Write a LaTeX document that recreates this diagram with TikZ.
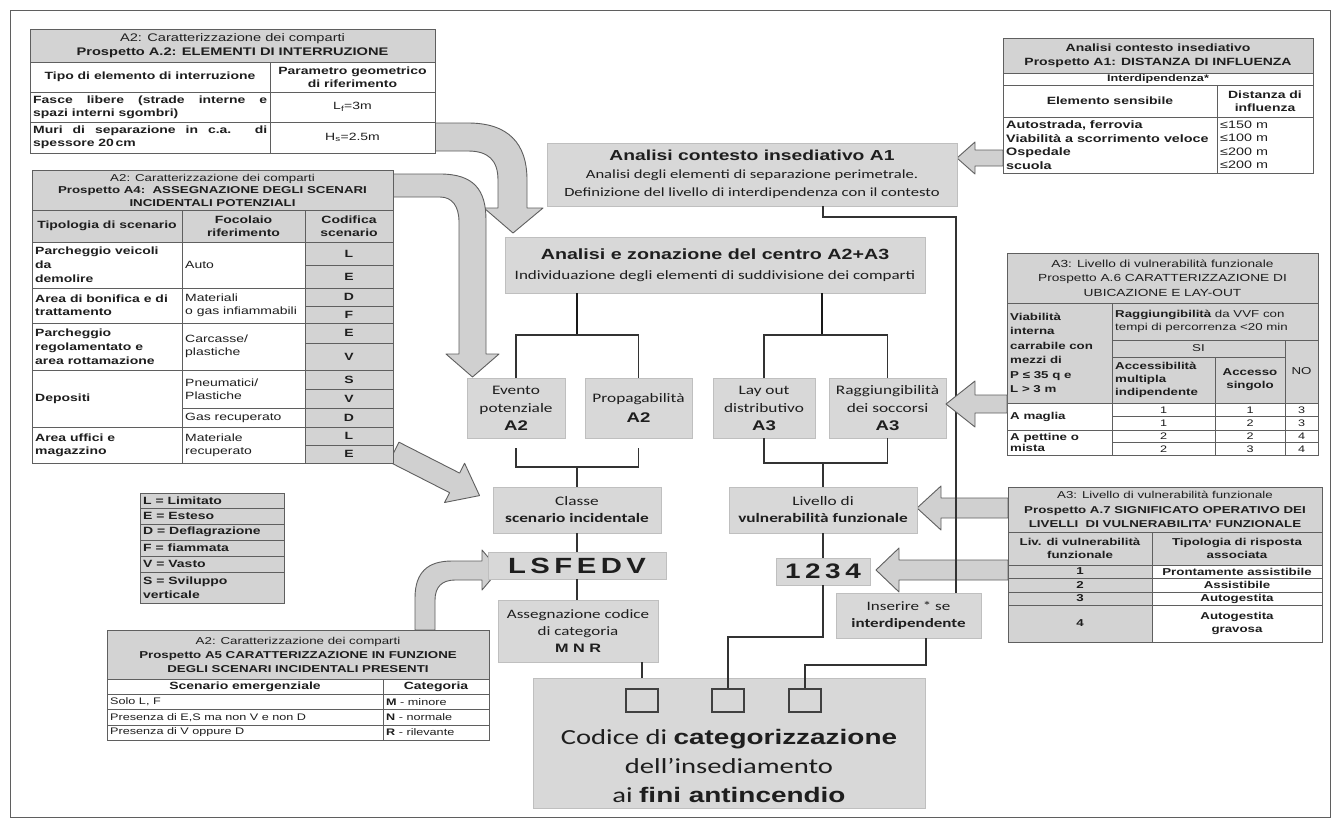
\documentclass[tikz,border=0pt]{standalone}
\usepackage{fontspec}
\setmainfont[FakeStretch=1.33]{Liberation Sans}
\newfontfamily\calfont[FakeStretch=1.33]{Carlito}
\usetikzlibrary{calc}
\definecolor{tgray}{RGB}{211,211,211}
\definecolor{bgray}{RGB}{216,216,216}
\definecolor{agray}{RGB}{208,208,208}
\definecolor{tline}{RGB}{95,95,95}
\definecolor{ink}{RGB}{30,30,30}
\newcommand\setfs[2]{\fontsize{#1}{#2}\selectfont}
\newcommand\libb{\normalfont\bfseries}
\newcommand\mkcell[8]{%
  \pgfmathsetmacro\cw{#6-#4}\pgfmathsetmacro\ch{#7-#5}\pgfmathsetmacro\lx{-(#6-#4)/2+3}%
  \node[cellrect,fill=#1,minimum width=\cw pt,minimum height=\ch pt] (#3) at (#4,#5) {};
  \node[celltext,#2] (#3t) at (#3.center) {#8};}
\newcommand\tcell[7][]{\mkcell{white}{#1}{#2}{#3}{#4}{#5}{#6}{#7}}
\newcommand\gcell[7][]{\mkcell{tgray}{#1}{#2}{#3}{#4}{#5}{#6}{#7}}
\newcommand\mkbox[7][]{%
  \pgfmathsetmacro\cw{#5-#3}\pgfmathsetmacro\ch{#6-#4}%
  \node[boxrect,minimum width=\cw pt,minimum height=\ch pt] (#2) at (#3,#4) {};
  \node[boxtext,#1] (#2t) at (#2.center) {#7};}
\begin{document}
\begin{tikzpicture}[x=1pt,y=-1pt,
  cellrect/.style={draw=tline,line width=0.7pt,anchor=north west,inner sep=0pt,outer sep=0pt},
  celltext/.style={inner sep=0pt,align=center,text=ink,font=\setfs{10.5}{13}},
  lft/.style={anchor=west,xshift=\lx pt,align=left},
  B/.style={font=\bfseries\setfs{10.5}{13}},
  boxrect/.style={draw=black!25,fill=bgray,line width=0.6pt,anchor=north west,inner sep=0pt,outer sep=0pt},
  boxtext/.style={inner sep=0pt,align=center,text=ink,font=\calfont\setfs{13}{16}},
  bigarrow/.style={draw=tline,fill=agray,line width=0.9pt,line join=round},
  link/.style={draw=black!80,line width=1.3pt},
  stem/.style={draw=black!90,line width=2.6pt},
  sqbox/.style={draw=black!75,fill=bgray,line width=1.4pt,minimum width=32pt,minimum height=23pt,inner sep=0pt},
]
\useasboundingbox[fill=white] (0,0) rectangle (1338,825);
\draw[draw=tline,line width=1pt] (10,10) rectangle (1330,817);

% ---------- big arrows (behind) ----------
\path[bigarrow] (435,123) -- (468,123) .. controls (508,123) and (527,143) .. (527,180) -- (527,208) -- (543,208) -- (513,233) -- (484,208) -- (498,208) -- (498,180) .. controls (498,160) and (488,151) .. (468,151) -- (435,151) -- cycle;
\path[bigarrow] (393,174) -- (440,174) .. controls (474,174) and (486,190) .. (486,220) -- (486,354) -- (499,354) -- (472.5,377) -- (446,354) -- (459,354) -- (459,222) .. controls (459,206) and (452,197) .. (440,197) -- (393,197) -- cycle;
\begin{scope}[shift={(394,452)},rotate=-27]
\path[bigarrow] (0,-11) -- (68,-11) -- (68,-22) -- (96,0) -- (68,22) -- (68,11) -- (0,11) -- cycle;
\end{scope}
\path[bigarrow] (415,630) -- (415,598) .. controls (415,572) and (428,561) .. (452,561) -- (482,561) -- (482,550) -- (499,570) -- (482,590) -- (482,580) -- (455,580) .. controls (442,580) and (435,587) .. (435,600) -- (435,630) -- cycle;
\path[bigarrow] (1003,150) -- (975,150) -- (975,142) -- (957,158) -- (975,174) -- (975,166) -- (1003,166) -- cycle;
\path[bigarrow] (1008,498) -- (941,498) -- (941,486) -- (917,508) -- (941,530) -- (941,518) -- (1008,518) -- cycle;
\path[bigarrow] (1008,560) -- (899,560) -- (899,548) -- (876,570) -- (899,592) -- (899,580) -- (1008,580) -- cycle;

% ---------- Table A.2 ----------
\gcell[font=\setfs{11}{14}]{a2h}{30}{29}{435}{62}{A2: Caratterizzazione dei comparti\\\textbf{Prospetto A.2: ELEMENTI DI INTERRUZIONE}}
\tcell[B]{a2c1}{30}{62}{270}{92}{Tipo di elemento di interruzione}
\tcell[B]{a2c2}{270}{62}{435}{92}{Parametro geometrico\\di riferimento}
\tcell[lft,B]{a2r1}{30}{92}{270}{122}{\makebox[234pt][s]{Fasce libere (strade interne e}\\spazi interni sgombri)}
\tcell{a2v1}{270}{92}{435}{122}{L\textsubscript{f}=3m}
\tcell[lft,B]{a2r2}{30}{122}{270}{153}{\makebox[234pt][s]{Muri di separazione in c.a. di}\\spessore 20\,cm}
\tcell{a2v2}{270}{122}{435}{153}{H\textsubscript{s}=2.5m}

% ---------- Table A4 ----------
\gcell[font=\setfs{10}{12.5}]{a4h}{32}{170}{393}{210}{A2: Caratterizzazione dei comparti\\\textbf{Prospetto A4:\ \ ASSEGNAZIONE DEGLI SCENARI}\\\textbf{INCIDENTALI POTENZIALI}}
\gcell[B]{a4c1}{32}{210}{182}{242}{Tipologia di scenario}
\gcell[B]{a4c2}{182}{210}{305}{242}{Focolaio\\riferimento}
\gcell[B]{a4c3}{305}{210}{393}{242}{Codifica\\scenario}
\tcell[lft,font=\bfseries\setfs{10.5}{14}]{a4r1}{32}{242}{182}{288}{Parcheggio veicoli\\da\\demolire}
\tcell[lft]{a4f1}{182}{242}{305}{288}{Auto}
\gcell[B]{a4k1}{305}{242}{393}{265}{L}
\gcell[B]{a4k2}{305}{265}{393}{288}{E}
\tcell[lft,B]{a4r2}{32}{288}{182}{323}{Area di bonifica e di\\trattamento}
\tcell[lft]{a4f2}{182}{288}{305}{323}{Materiali\\o gas infiammabili}
\gcell[B]{a4k3}{305}{288}{393}{306}{D}
\gcell[B]{a4k4}{305}{306}{393}{323}{F}
\tcell[lft,font=\bfseries\setfs{10.5}{14}]{a4r3}{32}{323}{182}{370}{Parcheggio\\regolamentato e\\area rottamazione}
\tcell[lft]{a4f3}{182}{323}{305}{370}{Carcasse/\\plastiche}
\gcell[B]{a4k5}{305}{323}{393}{343}{E}
\gcell[B]{a4k6}{305}{343}{393}{370}{V}
\tcell[lft,B]{a4r4}{32}{370}{182}{427}{Depositi}
\tcell[lft]{a4f4}{182}{370}{305}{408}{Pneumatici/\\Plastiche}
\tcell[lft]{a4f5}{182}{408}{305}{427}{Gas recuperato}
\gcell[B]{a4k7}{305}{370}{393}{389}{S}
\gcell[B]{a4k8}{305}{389}{393}{408}{V}
\gcell[B]{a4k9}{305}{408}{393}{427}{D}
\tcell[lft,B]{a4r5}{32}{427}{182}{463}{Area uffici e\\magazzino}
\tcell[lft]{a4f6}{182}{427}{305}{463}{Materiale\\recuperato}
\gcell[B]{a4k10}{305}{427}{393}{445}{L}
\gcell[B]{a4k11}{305}{445}{393}{463}{E}

% ---------- Legend ----------
\gcell[lft,B]{lg1}{140}{493}{284}{508.5}{L = Limitato}
\gcell[lft,B]{lg2}{140}{508.5}{284}{524}{E = Esteso}
\gcell[lft,B]{lg3}{140}{524}{284}{540}{D = Deflagrazione}
\gcell[lft,B]{lg4}{140}{540}{284}{556}{F = fiammata}
\gcell[lft,B]{lg5}{140}{556}{284}{572}{V = Vasto}
\gcell[lft,font=\bfseries\setfs{10.5}{14}]{lg6}{140}{572}{284}{603}{S = Sviluppo\\verticale}

% ---------- Table A5 ----------
\gcell[font=\setfs{10}{14}]{a5h}{107}{630}{489}{679}{A2: Caratterizzazione dei comparti\\\textbf{Prospetto A5 CARATTERIZZAZIONE IN FUNZIONE}\\\textbf{DEGLI SCENARI INCIDENTALI PRESENTI}}
\tcell[B]{a5c1}{107}{679}{383}{694}{Scenario emergenziale}
\tcell[B]{a5c2}{383}{679}{489}{694}{Categoria}
\tcell[lft,font=\setfs{9.5}{12}]{a5r1}{107}{694}{383}{709.5}{Solo L, F}
\tcell[lft,font=\setfs{9.5}{12}]{a5s1}{383}{694}{489}{709.5}{\textbf{M} - minore}
\tcell[lft,font=\setfs{9.5}{12}]{a5r2}{107}{709.5}{383}{725}{Presenza di E,S ma non V e non D}
\tcell[lft,font=\setfs{9.5}{12}]{a5s2}{383}{709.5}{489}{725}{\textbf{N} - normale}
\tcell[lft,font=\setfs{9.5}{12}]{a5r3}{107}{725}{383}{740}{Presenza di V oppure D}
\tcell[lft,font=\setfs{9.5}{12}]{a5s3}{383}{725}{489}{740}{\textbf{R} - rilevante}

% ---------- Table A1 (right top) ----------
\gcell[font=\bfseries\setfs{10.5}{14}]{a1h}{1003}{38}{1313}{73}{Analisi contesto insediativo\\Prospetto A1: DISTANZA DI INFLUENZA}
\tcell[font=\bfseries\setfs{9.5}{11}]{a1i}{1003}{73}{1313}{85}{Interdipendenza*}
\tcell[B]{a1c1}{1003}{85}{1217}{117}{Elemento sensibile}
\tcell[B]{a1c2}{1217}{85}{1313}{117}{Distanza di\\influenza}
\tcell[lft,font=\bfseries\setfs{10.8}{13.5}]{a1b1}{1003}{117}{1217}{173}{Autostrada, ferrovia\\Viabilità a scorrimento veloce\\Ospedale\\scuola}
\tcell[lft,font=\setfs{10.8}{13.5}]{a1b2}{1217}{117}{1313}{173}{≤150 m\\≤100 m\\≤200 m\\≤200 m}

% ---------- Table A.6 ----------
\gcell[font=\setfs{10.3}{14.5}]{a6h}{1007}{253}{1318}{303}{A3: Livello di vulnerabilità funzionale\\Prospetto A.6 CARATTERIZZAZIONE DI\\UBICAZIONE E LAY-OUT}
\gcell[lft,font=\bfseries\setfs{10}{14.5}]{a6v}{1007}{303}{1112}{403}{Viabilità\\interna\\carrabile con\\mezzi di\\P ≤ 35 q e\\L > 3 m}
\gcell[lft,font=\setfs{10}{13.5}]{a6r}{1112}{303}{1318}{340}{\textbf{Raggiungibilità} da VVF con\\tempi di percorrenza <20 min}
\gcell[font=\setfs{10}{12}]{a6si}{1112}{340}{1285}{357}{SI}
\gcell[font=\setfs{10}{12}]{a6no}{1285}{340}{1318}{403}{NO}
\gcell[lft,font=\bfseries\setfs{10}{13}]{a6am}{1112}{357}{1215}{403}{Accessibilità\\multipla\\indipendente}
\gcell[font=\bfseries\setfs{10}{13}]{a6as}{1215}{357}{1285}{403}{Accesso\\singolo}
\tcell[lft,font=\bfseries\setfs{10}{12}]{a6m}{1007}{403}{1112}{430}{A maglia}
\tcell[lft,font=\bfseries\setfs{10}{11.5}]{a6p}{1007}{430}{1112}{455}{A pettine o\\mista}
\tcell[font=\setfs{9.5}{11}]{a6n11}{1112}{403}{1215}{416.5}{1}
\tcell[font=\setfs{9.5}{11}]{a6n12}{1215}{403}{1285}{416.5}{1}
\tcell[font=\setfs{9.5}{11}]{a6n13}{1285}{403}{1318}{416.5}{3}
\tcell[font=\setfs{9.5}{11}]{a6n21}{1112}{416.5}{1215}{430}{1}
\tcell[font=\setfs{9.5}{11}]{a6n22}{1215}{416.5}{1285}{430}{2}
\tcell[font=\setfs{9.5}{11}]{a6n23}{1285}{416.5}{1318}{430}{3}
\tcell[font=\setfs{9.5}{11}]{a6n31}{1112}{430}{1215}{442.5}{2}
\tcell[font=\setfs{9.5}{11}]{a6n32}{1215}{430}{1285}{442.5}{2}
\tcell[font=\setfs{9.5}{11}]{a6n33}{1285}{430}{1318}{442.5}{4}
\tcell[font=\setfs{9.5}{11}]{a6n41}{1112}{442.5}{1215}{455}{2}
\tcell[font=\setfs{9.5}{11}]{a6n42}{1215}{442.5}{1285}{455}{3}
\tcell[font=\setfs{9.5}{11}]{a6n43}{1285}{442.5}{1318}{455}{4}

% ---------- Table A.7 ----------
\gcell[font=\bfseries\setfs{10}{14.5}]{a7h}{1008}{487}{1322}{532}{{\mdseries A3: Livello di vulnerabilità funzionale}\\Prospetto A.7 SIGNIFICATO OPERATIVO DEI\\LIVELLI\ \ DI VULNERABILITA' FUNZIONALE}
\gcell[font=\bfseries\setfs{10}{13}]{a7c1}{1008}{532}{1152}{565}{Liv. di vulnerabilità\\funzionale}
\gcell[font=\bfseries\setfs{10}{13}]{a7c2}{1152}{532}{1322}{565}{Tipologia di risposta\\associata}
\gcell[font=\bfseries\setfs{10}{11}]{a7l1}{1008}{565}{1152}{578}{1}
\tcell[font=\bfseries\setfs{10}{11}]{a7t1}{1152}{565}{1322}{578}{Prontamente assistibile}
\gcell[font=\bfseries\setfs{10}{11}]{a7l2}{1008}{578}{1152}{592}{2}
\tcell[font=\bfseries\setfs{10}{11}]{a7t2}{1152}{578}{1322}{592}{Assistibile}
\gcell[font=\bfseries\setfs{10}{11}]{a7l3}{1008}{592}{1152}{605}{3}
\tcell[font=\bfseries\setfs{10}{11}]{a7t3}{1152}{592}{1322}{605}{Autogestita}
\gcell[font=\bfseries\setfs{10}{11}]{a7l4}{1008}{605}{1152}{642}{4}
\tcell[font=\bfseries\setfs{10}{13}]{a7t4}{1152}{605}{1322}{642}{Autogestita\\gravosa}

% ---------- central boxes ----------
\mkbox[font=\calfont\setfs{12.5}{18}]{A1b}{547}{143}{957}{206}{{\libb\setfs{14.5}{18}Analisi contesto insediativo A1}\\Analisi degli elementi di separazione perimetrale.\\Definizione del livello di interdipendenza con il contesto}
\mkbox[font=\calfont\setfs{12.8}{20}]{A23}{505}{237}{925}{293}{{\libb\setfs{14.8}{20}Analisi e zonazione del centro A2+A3}\\Individuazione degli elementi di suddivisione dei comparti}
\mkbox[font=\calfont\setfs{13}{18}]{ev}{467}{378}{565}{438}{Evento\\potenziale\\{\libb\setfs{14}{18}A2}}
\mkbox[font=\calfont\setfs{13}{20}]{pr}{585}{378}{692}{438}{Propagabilità\\{\libb\setfs{14}{20}A2}}
\mkbox[font=\calfont\setfs{13}{18}]{lo}{713}{378}{815}{438}{Lay out\\distributivo\\{\libb\setfs{14}{18}A3}}
\mkbox[font=\calfont\setfs{13}{18}]{ra}{829}{378}{946}{438}{Raggiungibilità\\dei soccorsi\\{\libb\setfs{14}{18}A3}}
\mkbox[font=\calfont\setfs{13}{17}]{cl}{493}{487}{661}{533}{Classe\\\textbf{scenario incidentale}}
\mkbox[font=\calfont\setfs{13}{17}]{lv}{729}{487}{917}{533}{Livello di\\\textbf{vulnerabilità funzionale}}
\mkbox[font=\libb\setfs{22}{24}]{ls}{488}{552}{666}{579}{L\hspace{4.5pt}S\hspace{4.5pt}F\hspace{4.5pt}E\hspace{4.5pt}D\hspace{4.5pt}V}
\mkbox[font=\libb\setfs{21}{24}]{n4}{776}{558}{870}{585}{1\hspace{4.5pt}2\hspace{4.5pt}3\hspace{4.5pt}4}
\mkbox[font=\calfont\setfs{12.8}{17}]{as}{498}{600}{658}{662}{Assegnazione codice\\di categoria\\{\libb\setfs{12.2}{17}M N R}}
\mkbox[font=\calfont\setfs{12.8}{17}]{ins}{836}{593}{981}{638}{Inserire * se\\\textbf{interdipendente}}
\node[boxrect,minimum width=392pt,minimum height=130pt] (big) at (533,678) {};
\node[boxtext,font=\calfont\setfs{21.5}{29}] (bigt) at (729,766) {Codice di {\libb\setfs{21}{29}categorizzazione}\\dell’insediamento\\ai {\libb\setfs{21}{29}fini antincendio}};
\node[sqbox] (sq1) at (642,700.5) {};
\node[sqbox] (sq2) at (728,700.5) {};
\node[sqbox] (sq3) at (805,700.5) {};

% ---------- connectors ----------
\coordinate (a1tap) at (823,217);
\coordinate (a1turn) at (956,217);
\coordinate (jl) at (577,335);
\coordinate (jr) at (822,335);
\coordinate (bl) at (577,467);
\coordinate (br) at (823,463);
\coordinate (k2) at (823,637);
\coordinate (k3) at (926,665);
\draw[link] (A1b.south -| a1tap) -- (a1tap) -- (a1turn) -- (a1turn |- ins.north);
\draw[stem] (A23.south -| jl) -- (jl);
\draw[stem] (A23.south -| jr) -- (jr);
\draw[link] (ev.north) |- (jl) -| (pr.north);
\draw[link] (lo.north) |- (jr) -| (ra.north);
\draw[link] ([yshift=-10pt]ev.south) |- (bl) -| ([yshift=-10pt]pr.south);
\draw[link] (bl) -- (cl.north);
\draw[link] (lo.south) |- (br) -| (ra.south);
\draw[link] (br) -- (lv.north);
\draw[link] (cl.south) -- (ls.north);
\draw[link] (ls.south) -- (ls.south |- as.north);
\draw[link] (lv.south) -- (n4.north);
\draw[link] (sq1 |- as.south) -- (sq1 |- big.north);
\draw[link] (n4.south) -- (k2) -| (sq2.north);
\draw[link] (ins.south -| k3) -- (k3) -| (sq3.north);

% arrow to Raggiungibilita drawn over the long line
\path[bigarrow] (1007,395) -- (975,395) -- (975,381) -- (946,404) -- (975,427) -- (975,413) -- (1007,413) -- cycle;
\end{tikzpicture}
\end{document}
